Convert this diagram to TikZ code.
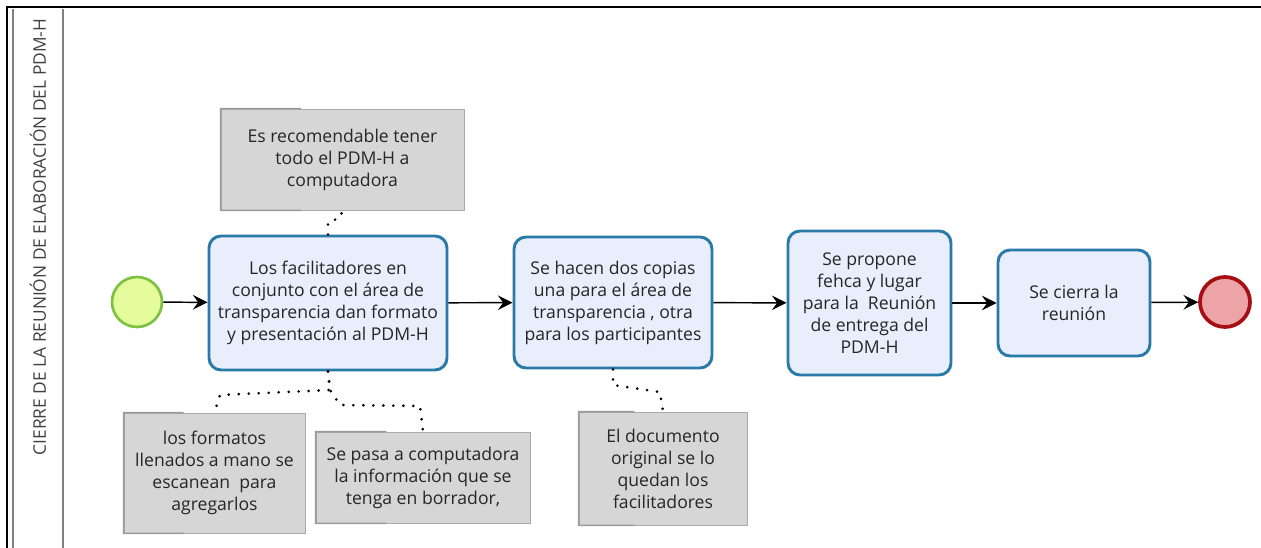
\documentclass[tikz,border=0pt]{standalone}
\usepackage{fontspec}
\setmainfont{Open Sans}
\usetikzlibrary{arrows.meta,calc}

\definecolor{tareaborde}{HTML}{2A7AA8}
\definecolor{tareafondo}{HTML}{E8EEFC}
\definecolor{iniborde}{HTML}{7DC142}
\definecolor{inifondo}{HTML}{E4FC9C}
\definecolor{finborde}{HTML}{A60F14}
\definecolor{finfondo}{HTML}{EDA4A6}
\definecolor{notafondo}{HTML}{D6D6D6}
\definecolor{notaborde}{HTML}{9A9A9A}
\definecolor{texto}{HTML}{262626}

\tikzset{
  tarea/.style={draw=tareaborde, line width=2.2pt, fill=tareafondo, rounded corners=9pt,
    align=center, text=texto, font=\fontsize{13.2}{16.5}\selectfont, inner sep=1pt},
  nota/.style={draw=notafondo!80!black, line width=0.6pt, fill=notafondo,
    align=center, text=texto, font=\fontsize{13.2}{16.5}\selectfont, inner sep=1pt},
  corchete/.style={draw=notaborde, line width=1.2pt},
  evento/.style={circle, minimum size=37.5pt, inner sep=0pt},
  flujo/.style={line width=1.1pt, -{Stealth[length=11pt,width=11pt,inset=4pt]}},
  asociacion/.style={line width=2.2pt, line cap=round, dash pattern=on 0pt off 7.5pt}
}

\begin{document}
\begin{tikzpicture}[x=0.75pt,y=-0.75pt]
  % Marco de la picture (en pixeles de la imagen).
  \useasboundingbox (0,0) rectangle (1261,548);
  \draw[line width=2pt] (7,548) -- (7,7) -- (1261,7);
  \draw[gray, line width=1.2pt] (13,548) -- (13,9);
  \draw[gray, line width=1.2pt] (63,548) -- (63,9);

  % Nombre del carril, girado.
  \node[rotate=90, text=black!75, font=\fontsize{13}{15}\selectfont] (carril) at (38,237)
    {CIERRE DE LA REUNIÓN DE ELABORACIÓN DEL PDM-H};

  % Eventos de inicio y fin.
  \node[evento, draw=iniborde, line width=2pt, fill=inifondo] (inicio) at (137,302) {};
  \node[evento, draw=finborde, line width=2.8pt, fill=finfondo] (fin) at (1225,302) {};

  % Tareas del proceso.
  \node[tarea, minimum width=238*0.75pt, minimum height=134*0.75pt] (t1) at (328,303)
    {Los facilitadores en\\conjunto con el área de\\transparencia dan formato\\y presentación al PDM-H};
  \node[tarea, minimum width=198*0.75pt, minimum height=131*0.75pt] (t2) at (613,302.5)
    {Se hacen dos copias\\una para el área de\\transparencia , otra\\para los participantes};
  \node[tarea, minimum width=163*0.75pt, minimum height=144*0.75pt] (t3) at (869.5,303)
    {Se propone\\fehca y lugar\\para la\ \ Reunión\\de entrega del\\PDM-H};
  \node[tarea, minimum width=152*0.75pt, minimum height=106*0.75pt] (t4) at (1074,303)
    {Se cierra la\\reunión};

  % Anotaciones en gris.
  \node[nota, minimum width=243*0.75pt, minimum height=101*0.75pt] (notaSup) at (342.5,159.5)
    {Es recomendable tener\\todo el PDM-H a\\computadora};
  \node[nota, minimum width=181*0.75pt, minimum height=120*0.75pt] (notaA) at (214.5,473)
    {los formatos\\llenados a mano se\\escanean\ \ para\\agregarlos};
  \node[nota, minimum width=214*0.75pt, minimum height=91*0.75pt] (notaB) at (423,477.5)
    {Se pasa a computadora\\la información que se\\tenga en borrador,};
  \node[nota, minimum width=168*0.75pt, minimum height=113*0.75pt] (notaC) at (663,468.5)
    {El documento\\original se lo\\quedan los\\facilitadores};

  % Corchete a la izquierda de cada anotacion.
  \foreach \n in {notaSup,notaA,notaB,notaC} {
    \draw[corchete] ($(\n.north west)!0.33!(\n.north east)$) -- (\n.north west)
      -- (\n.south west) -- ($(\n.south west)!0.33!(\n.south east)$);
  }

  % Flujo de secuencia.
  \draw[flujo] (inicio) -- (t1);
  \draw[flujo] (t1) -- (t2);
  \draw[flujo] (t2) -- (t3);
  \draw[flujo] (t3) -- (t4);
  \draw[flujo] (t4) -- (fin);

  % Asociaciones punteadas hacia las anotaciones.
  \draw[asociacion] (t1.north) -- (328,222) -- (340,218) -- (notaSup.south);
  \draw[asociacion] (t1.south) -- (330,390) -- (220,395) -- (notaA.north);
  \draw[asociacion] (t1.south) -- (330,390) -- (340,405) -- (420,406) -- (notaB.north);
  \draw[asociacion] (t2.south) -- (613,385) -- (660,392) -- (notaC.north);
\end{tikzpicture}
\end{document}
